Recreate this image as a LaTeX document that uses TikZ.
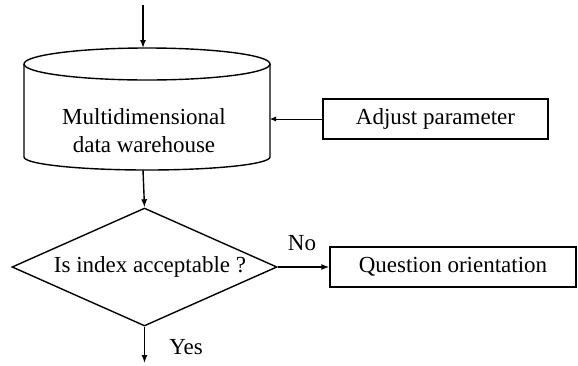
\documentclass[tikz,border=0pt]{standalone}
\usepackage{fontspec}
\setmainfont{Liberation Serif}
\usetikzlibrary{arrows.meta,shapes.geometric}
\begin{document}
\begin{tikzpicture}[x=1pt,y=-1pt,
  every node/.style={font=\fontsize{23}{28}\selectfont},
  main/.style={line width=1.4pt},
  arr/.style={main,-{Latex[length=8pt,width=6pt]}},
  thinarr/.style={line width=0.8pt,-{Latex[length=6pt,width=5pt]}},
  box/.style={draw,main,rectangle,inner sep=0pt},
  dia/.style={draw,main,diamond,shape aspect=2.25,inner sep=0pt,minimum width=265pt,minimum height=118pt}]
\useasboundingbox (0,0) rectangle (578,365);
% cylinder
\draw[main] (24,64) arc[start angle=180,end angle=-180,x radius=123,y radius=16];
\draw[main] (24,64) -- (24,157) arc[start angle=180,end angle=0,x radius=123,y radius=13] -- (270,64);
\coordinate (dwtop) at (143,48);
\coordinate (dwbot) at (143,170);
\coordinate (dwright) at (270,119);
\coordinate (start) at (143,5);
\node[align=center] (dw) at (144,131) {Multidimensional\\data warehouse};
% boxes
\node[box,minimum width=225pt,minimum height=40pt] (adj) at (435.5,119) {Adjust parameter};
\node[dia] (q) at (144.5,267) {};
\node (qt) at (150,267) {Is index acceptable ?};
\node[box,minimum width=246pt,minimum height=40pt] (qo) at (453,267) {Question orientation};
\coordinate (end) at (144.5,363);
% connectors
\draw[arr] (start) -- (dwtop);
\draw[thinarr] (adj.west) -- (dwright);
\draw[arr] (dwbot) -- (q.north);
\draw[arr] (q.east) -- (qo.west);
\draw[arr] (q.south) -- (end);
\node (no) at (302,243) {No};
\node (yes) at (186,347) {Yes};
\end{tikzpicture}
\end{document}
